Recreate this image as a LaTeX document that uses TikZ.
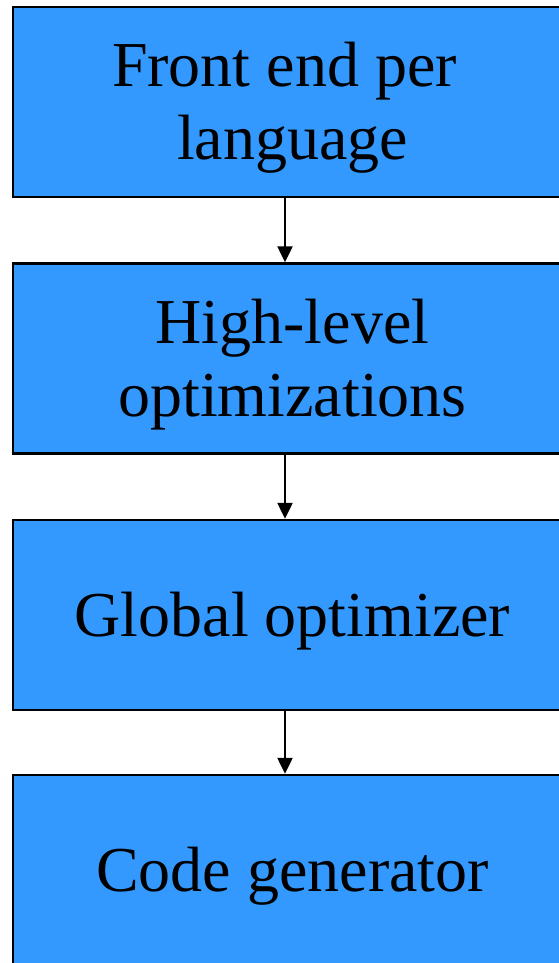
\documentclass[tikz,border=0pt]{standalone}
\usepackage{fontspec}
\setmainfont{Liberation Serif}
\usetikzlibrary{arrows.meta}
\definecolor{boxblue}{RGB}{51,153,255}
\begin{document}
\begin{tikzpicture}[x=1pt,y=1pt,
  stage/.style={draw=black, line width=2.5pt, fill=boxblue, rectangle,
    minimum width=559pt, minimum height=190pt, inner sep=0pt},
  stagetext/.style={align=center, font=\fontsize{64}{73}\selectfont, text=black,
    inner sep=0pt, yshift=-6pt},
  flow/.style={line width=2.5pt, -{Triangle[length=16pt,width=15pt]}}]
\useasboundingbox (0,0) rectangle (558,-963);
\node[stage] (b1) at (292.5,-102) {};
\node[stage] (b2) at (292.5,-358.5) {};
\node[stage] (b3) at (292.5,-615) {};
\node[stage] (b4) at (292.5,-870) {};
\node[stagetext] (t1) at (b1.center) {Front end per\kern16pt\\language};
\node[stagetext] (t2) at (b2.center) {High-level\\optimizations};
\node[stagetext] (t3) at (b3.center) {Global optimizer};
\node[stagetext] (t4) at (b4.center) {Code generator};
\coordinate (ax) at (285,0);
\draw[flow] (b1.south -| ax) -- (b2.north -| ax);
\draw[flow] (b2.south -| ax) -- (b3.north -| ax);
\draw[flow] (b3.south -| ax) -- (b4.north -| ax);
\end{tikzpicture}
\end{document}
